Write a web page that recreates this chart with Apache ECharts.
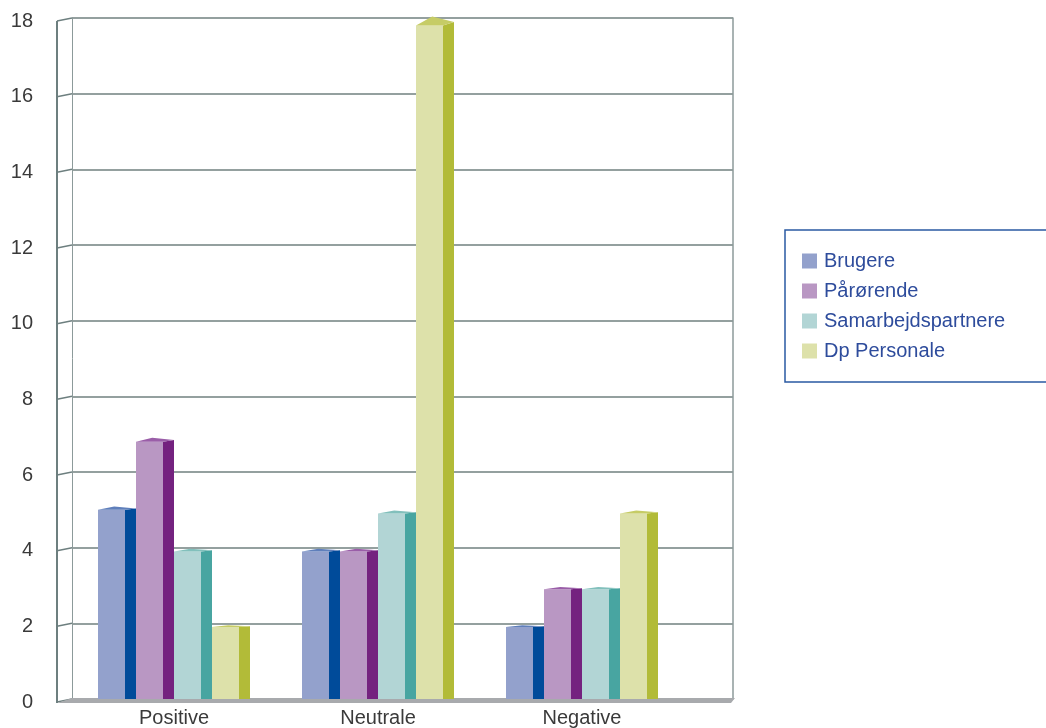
<!DOCTYPE html>
<html>
<head>
<meta charset="utf-8">
<script src="https://cdn.jsdelivr.net/npm/echarts@6/dist/echarts.min.js"></script>
<style>
  html, body { margin: 0; padding: 0; background: #fff; }
  #main { width: 1046px; height: 728px; }
</style>
</head>
<body>
<div id="main"></div>
<script>
// data
var categories = ["Positive", "Neutrale", "Negative"];
var seriesNames = ["Brugere", "Pårørende", "Samarbejdspartnere", "Dp Personale"];
var brugere = [5, 3.9, 1.9];
var paaroerende = [6.8, 3.9, 2.9];
var samarbejde = [3.9, 4.9, 2.9];
var dpPersonale = [1.9, 17.8, 4.9];
var yTicks = [0, 2, 4, 6, 8, 10, 12, 14, 16, 18];

var allValues = [brugere, paaroerende, samarbejde, dpPersonale];
var frontColors = ["#93a1cc", "#b997c3", "#b2d5d5", "#dde1aa"];
var sideColors = ["#004b9a", "#74227f", "#48a5a1", "#b2bb38"];
var topColors = ["#5f7fbb", "#9a5ea8", "#82c0bc", "#c6cc66"];

var wallColor = "#6d7f7f";

var myChart = echarts.init(document.getElementById("main"));

function barRender(idx) {
  return function (params, api) {
    var base = api.coord([api.value(0), 0]);
    var top = api.coord([api.value(0), api.value(1)]);
    var band = api.size([1, 0])[0];
    var frontW = band * 27 / 204;
    var sideW = band * 11 / 204;
    var barW = frontW + sideW;
    var x0 = base[0] - 2 * barW + idx * barW;
    var yT = top[1], yB = base[1];
    var d = (yB - yT) * 0.012 + 1; // perspective rise of the top
    return {
      type: "group",
      children: [
        {
          type: "rect",
          shape: { x: x0, y: yT, width: frontW, height: yB - yT },
          style: { fill: frontColors[idx] }
        },
        {
          type: "polygon",
          shape: { points: [[x0 + frontW, yT], [x0 + barW, yT - d * 0.4], [x0 + barW, yB], [x0 + frontW, yB]] },
          style: { fill: sideColors[idx] }
        },
        {
          type: "polygon",
          shape: { points: [[x0, yT], [x0 + frontW * 0.6, yT - d], [x0 + barW, yT - d * 0.4], [x0 + frontW, yT]] },
          style: { fill: topColors[idx] }
        }
      ]
    };
  };
}

// left wall + floor drawn from y ticks
function wallRender(params, api) {
  var v = api.value(1);
  var p = api.coord([0, v]);
  var children = [
    {
      type: "line",
      shape: { x1: p[0] - 15, y1: p[1] + 3, x2: p[0], y2: p[1] },
      style: { stroke: wallColor, lineWidth: 1.5 }
    }
  ];
  if (v === 0) {
    var pr = api.coord([1, 0]);
    var pt = api.coord([0, yTicks[yTicks.length - 1]]);
    children.push({
      type: "polygon",
      shape: { points: [[p[0] - 15, p[1] + 4], [p[0], p[1] - 1], [pr[0] + 2, p[1] - 1], [pr[0] - 2, p[1] + 4]] },
      style: { fill: "#a8aaad" }
    });
    children.push({
      type: "line",
      shape: { x1: p[0] - 15, y1: pt[1] + 3, x2: p[0] - 15, y2: p[1] + 4 },
      style: { stroke: wallColor, lineWidth: 2 }
    });
  }
  return { type: "group", children: children };
}

var series = [
  {
    type: "custom",
    name: "wall",
    xAxisIndex: 0,
    yAxisIndex: 0,
    renderItem: wallRender,
    data: yTicks.map(function (v) { return [0, v]; }),
    silent: true,
    clip: false,
    z: 1
  }
];
allValues.forEach(function (vals, i) {
  series.push({
    type: "custom",
    name: seriesNames[i],
    xAxisIndex: 1,
    yAxisIndex: 2,
    renderItem: barRender(i),
    itemStyle: { color: frontColors[i] },
    encode: { x: 0, y: 1 },
    data: vals.map(function (v, c) { return [c, v]; }),
    clip: false,
    z: 5
  });
});

myChart.setOption({
  animation: false,
  textStyle: { fontFamily: "Liberation Sans" },
  grid: [
    { left: 72, right: 313, top: 18, bottom: 29 },
    { left: 72, width: 612, top: 18, bottom: 29 }
  ],
  xAxis: [
    { gridIndex: 0, type: "value", min: 0, max: 1, show: false },
    {
      gridIndex: 1,
      type: "category",
      data: categories,
      axisLine: { show: false },
      axisTick: { show: false },
      axisLabel: { margin: 9, fontSize: 20, color: "#3a3a3a" }
    }
  ],
  yAxis: [
    {
      gridIndex: 0,
      type: "value",
      min: 0,
      max: 18,
      interval: 2,
      axisLine: { show: true, lineStyle: { color: "#8c9a9a", width: 1 } },
      axisTick: { show: false },
      axisLabel: {
        margin: 39,
        formatter: "{n|{value}}",
        rich: { n: { fontSize: 20, color: "#3a3a3a", padding: [6, 0, 0, 0] } }
      },
      splitLine: { show: true, lineStyle: { color: "#71807f", width: 1.5 } }
    },
    {
      gridIndex: 0,
      type: "value",
      position: "right",
      min: 0,
      max: 18,
      interval: 2,
      axisLine: { show: true, lineStyle: { color: "#8c9a9a", width: 1.5 } },
      axisTick: { show: false },
      axisLabel: { show: false },
      splitLine: { show: false }
    },
    { gridIndex: 1, type: "value", min: 0, max: 18, show: false }
  ],
  legend: {
    orient: "vertical",
    left: 797,
    top: 246,
    icon: "rect",
    itemWidth: 15,
    itemHeight: 15,
    itemGap: 10,
    data: seriesNames,
    textStyle: { fontSize: 20, color: "#2e4c9c", padding: [0, 0, 0, 2] }
  },
  graphic: [
    {
      type: "rect",
      shape: { x: 785, y: 230, width: 280, height: 152 },
      style: { fill: "none", stroke: "#2a5aa2", lineWidth: 1.5 },
      z: 0
    }
  ],
  series: series
});
</script>
</body>
</html>
